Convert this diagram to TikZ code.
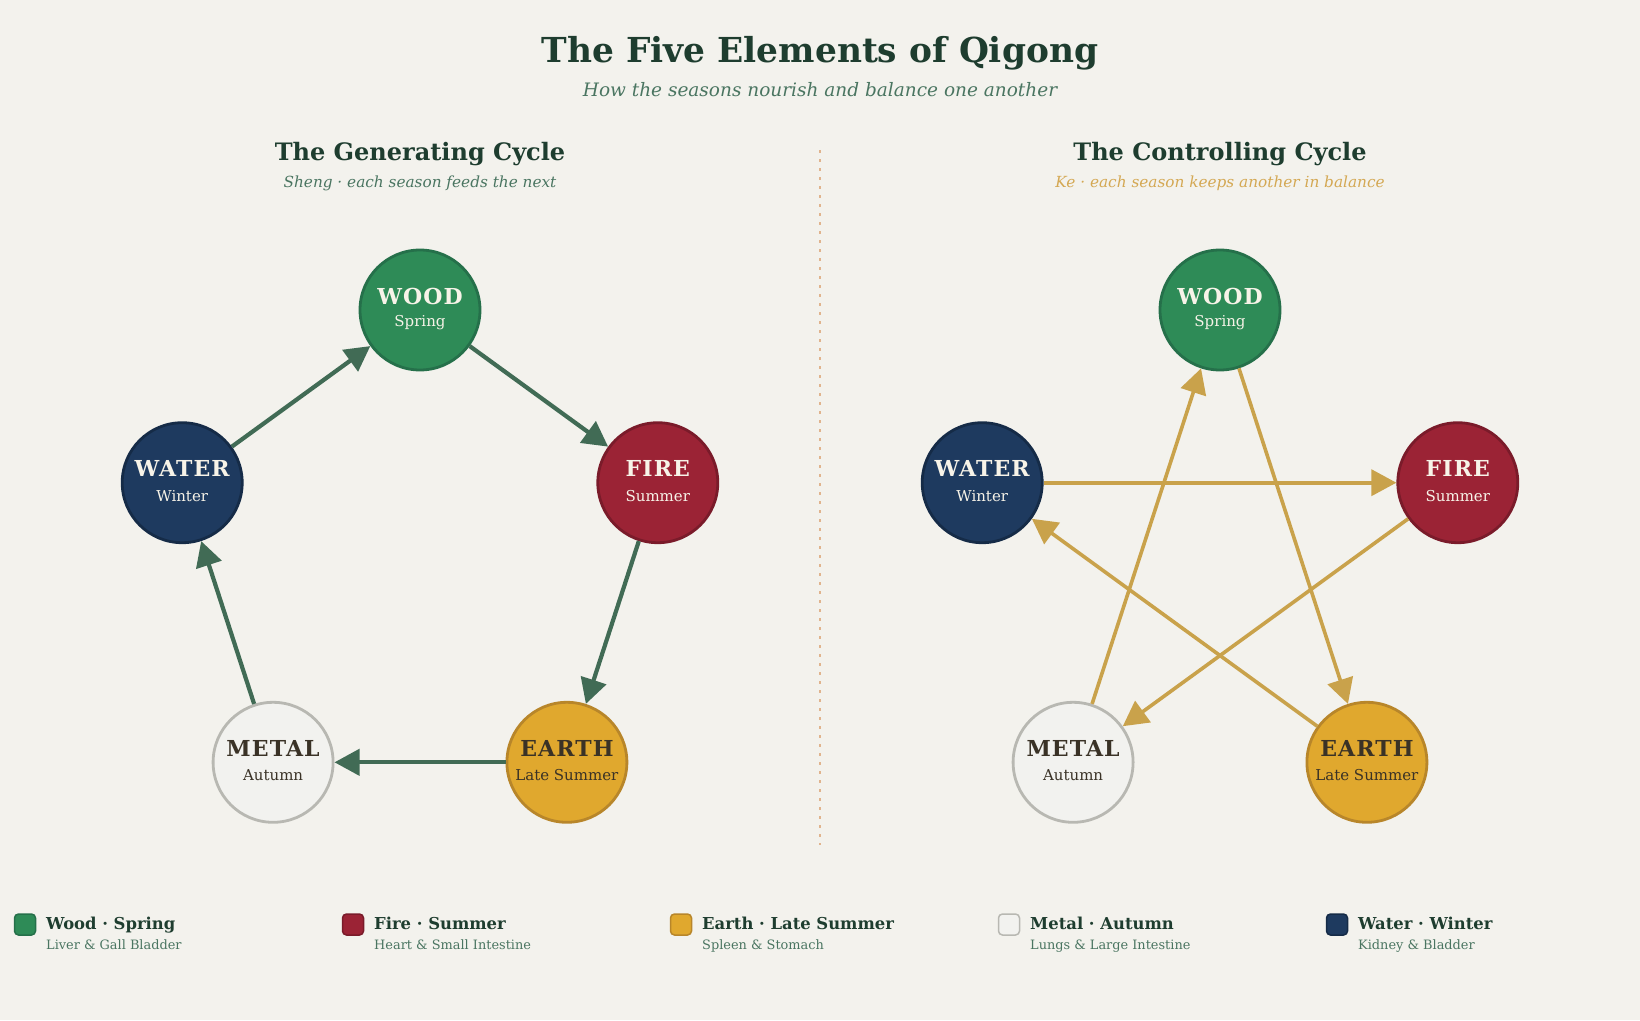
\documentclass[tikz,border=0pt]{standalone}
\usepackage{fontspec}
\setmainfont{DejaVu Serif}
\newfontfamily\capsfont[LetterSpace=5]{DejaVu Serif}
\usetikzlibrary{arrows.meta}
\definecolor{bgc}{HTML}{F3F2ED}
\definecolor{titlec}{HTML}{1E3D2F}
\definecolor{subc}{HTML}{4A7561}
\definecolor{goldsub}{HTML}{D4A853}
\definecolor{divc}{HTML}{E0B48E}
\definecolor{genc}{HTML}{416B55}
\definecolor{ctrlc}{HTML}{C9A24B}
\definecolor{woodf}{HTML}{2E8B57}\definecolor{woodd}{HTML}{25704A}
\definecolor{firef}{HTML}{9B2335}\definecolor{fired}{HTML}{7A1B2A}
\definecolor{earthf}{HTML}{E0A82E}\definecolor{earthd}{HTML}{B8862A}
\definecolor{metalf}{HTML}{F2F2EF}\definecolor{metald}{HTML}{B8B8B2}
\definecolor{waterf}{HTML}{1E3A5F}\definecolor{waterd}{HTML}{152B47}
\definecolor{lighttxt}{HTML}{F7F3E8}
\definecolor{darktxt}{HTML}{3A3226}
\tikzset{
  elem/.style={circle, minimum size=120pt, inner sep=0pt, line width=2.8pt},
  elabel/.style={font=\capsfont\fontsize{22}{24}\selectfont\bfseries, inner sep=0pt},
  eseason/.style={font=\fontsize{15}{17}\selectfont, inner sep=0pt},
  genarrow/.style={draw=genc, line width=4.2pt, -{Triangle[length=25pt,width=26pt]}},
  ctrlarrow/.style={draw=ctrlc, line width=3.6pt, -{Triangle[length=25pt,width=26pt]}},
  sectitle/.style={font=\fontsize{24}{28}\selectfont\bfseries, text=titlec},
  legbox/.style={draw, line width=1.5pt, rounded corners=4pt, minimum size=21pt, inner sep=0pt},
  legtitle/.style={font=\fontsize{16.4}{18}\selectfont\bfseries, text=titlec, anchor=base west, inner sep=0pt},
  legsub/.style={font=\fontsize{12.9}{14}\selectfont, text=subc, anchor=base west, inner sep=0pt},
}
\newcommand{\elemnode}[8]{%
  % #1 name, #2 x, #3 y, #4 fill, #5 border, #6 label, #7 season, #8 text colour
  \node[elem, fill=#4, draw=#5] (#1) at (#2,#3) {};
  \node[elabel, text=#8] (#1-l) at (#2,#3-14) {#6};
  \node[eseason, text=#8] (#1-s) at (#2,#3+13) {#7};
}
\begin{document}
\begin{tikzpicture}[x=1pt,y=-1pt]
\fill[bgc] (0,0) rectangle (1640,1020);
\useasboundingbox (0,0) rectangle (1640,1020);

\node[font=\fontsize{34.4}{40}\selectfont\bfseries, text=titlec] (title) at (820,53) {The Five Elements of Qigong};
\node[font=\fontsize{18.5}{22}\selectfont\itshape, text=subc] (subtitle) at (820,90) {How the seasons nourish and balance one another};

\node[sectitle] (gentitle) at (420,154.5) {The Generating Cycle};
\node[font=\fontsize{15.3}{18}\selectfont\itshape, text=subc] (gensub) at (420,183) {Sheng · each season feeds the next};
\node[sectitle] (ctrltitle) at (1220,154.5) {The Controlling Cycle};
\node[font=\fontsize{15.3}{18}\selectfont\itshape, text=goldsub] (ctrlsub) at (1220,183) {Ke · each season keeps another in balance};

\coordinate (divtop) at (820,150);
\coordinate (divbot) at (820,845);
\draw[divc, line width=2pt, dash pattern=on 3pt off 6pt] (divtop) -- (divbot);

% Left: generating cycle
\elemnode{woodL}{420}{310}{woodf}{woodd}{WOOD}{Spring}{lighttxt}
\elemnode{fireL}{657.8}{482.7}{firef}{fired}{FIRE}{Summer}{lighttxt}
\elemnode{earthL}{566.9}{762.3}{earthf}{earthd}{EARTH}{Late Summer}{darktxt}
\elemnode{metalL}{273.1}{762.3}{metalf}{metald}{METAL}{Autumn}{darktxt}
\elemnode{waterL}{182.2}{482.7}{waterf}{waterd}{WATER}{Winter}{lighttxt}

\draw[genarrow] (woodL) -- (fireL);
\draw[genarrow] (fireL) -- (earthL);
\draw[genarrow] (earthL) -- (metalL);
\draw[genarrow] (metalL) -- (waterL);
\draw[genarrow] (waterL) -- (woodL);

% Right: controlling cycle
\elemnode{woodR}{1220}{310}{woodf}{woodd}{WOOD}{Spring}{lighttxt}
\elemnode{fireR}{1457.8}{482.7}{firef}{fired}{FIRE}{Summer}{lighttxt}
\elemnode{earthR}{1366.9}{762.3}{earthf}{earthd}{EARTH}{Late Summer}{darktxt}
\elemnode{metalR}{1073.1}{762.3}{metalf}{metald}{METAL}{Autumn}{darktxt}
\elemnode{waterR}{982.2}{482.7}{waterf}{waterd}{WATER}{Winter}{lighttxt}

\draw[ctrlarrow] (woodR) -- (earthR);
\draw[ctrlarrow] (earthR) -- (waterR);
\draw[ctrlarrow] (waterR) -- (fireR);
\draw[ctrlarrow] (fireR) -- (metalR);
\draw[ctrlarrow] (metalR) -- (woodR);

% Legend
\node[legbox, fill=woodf, draw=woodd] (lg1) at (25,924.5) {};
\node[legtitle] (lg1t) at (46,929.5) {Wood · Spring};
\node[legsub] (lg1s) at (46,949.5) {Liver \& Gall Bladder};
\node[legbox, fill=firef, draw=fired] (lg2) at (353,924.5) {};
\node[legtitle] (lg2t) at (374,929.5) {Fire · Summer};
\node[legsub] (lg2s) at (374,949.5) {Heart \& Small Intestine};
\node[legbox, fill=earthf, draw=earthd] (lg3) at (681,924.5) {};
\node[legtitle] (lg3t) at (702,929.5) {Earth · Late Summer};
\node[legsub] (lg3s) at (702,949.5) {Spleen \& Stomach};
\node[legbox, fill=metalf, draw=metald] (lg4) at (1009,924.5) {};
\node[legtitle] (lg4t) at (1030,929.5) {Metal · Autumn};
\node[legsub] (lg4s) at (1030,949.5) {Lungs \& Large Intestine};
\node[legbox, fill=waterf, draw=waterd] (lg5) at (1337,924.5) {};
\node[legtitle] (lg5t) at (1358,929.5) {Water · Winter};
\node[legsub] (lg5s) at (1358,949.5) {Kidney \& Bladder};
\end{tikzpicture}
\end{document}
